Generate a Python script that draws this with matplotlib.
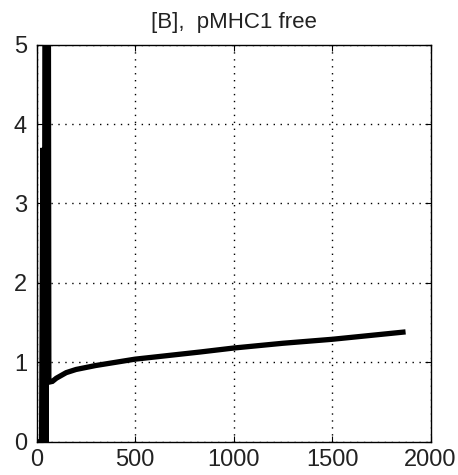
import matplotlib
matplotlib.use("Agg")
import matplotlib.pyplot as plt

time = [0, 25, 32, 36, 40, 44, 48, 52, 55, 58, 62, 80, 100, 150, 200, 300, 500, 830, 1000, 1250, 1500, 1860]
conc = [0, 0, 3.7, 0.3, 1.2, 9.0, 0.0, 9.0, 1.6, 9.0, 0.75, 0.76, 0.80, 0.87, 0.91, 0.96, 1.04, 1.13, 1.18, 1.24, 1.29, 1.38]
xticks = [0, 500, 1000, 1500, 2000]
yticks = [0, 1, 2, 3, 4, 5]

plt.rcParams['font.family'] = ['Liberation Sans', 'DejaVu Sans']
fig = plt.figure(figsize=(4.58, 4.75), dpi=100)
ax = fig.add_axes([0.080, 0.070, 0.860, 0.836])
ax.plot(time, conc, color='black', linewidth=3.8, solid_joinstyle='miter')
ax.set_xlim(0, 2000)
ax.set_ylim(0, 5)
ax.set_xticks(xticks)
ax.set_yticks(yticks)
ax.tick_params(direction='in', length=4, width=0.8, top=True, right=True,
               labelsize=17, colors='black', labelcolor='#222222')
ax.tick_params(axis='x', pad=5)
ax.tick_params(axis='y', pad=7)
ax.grid(True, linestyle=(0, (1, 4)), color='black', linewidth=1.0)
for s in ax.spines.values():
    s.set_linewidth(1.0)
ax.set_title('[B],  pMHC1 free', fontsize=16, pad=12, color='#222222')
fig.savefig('out.png', dpi=100)
